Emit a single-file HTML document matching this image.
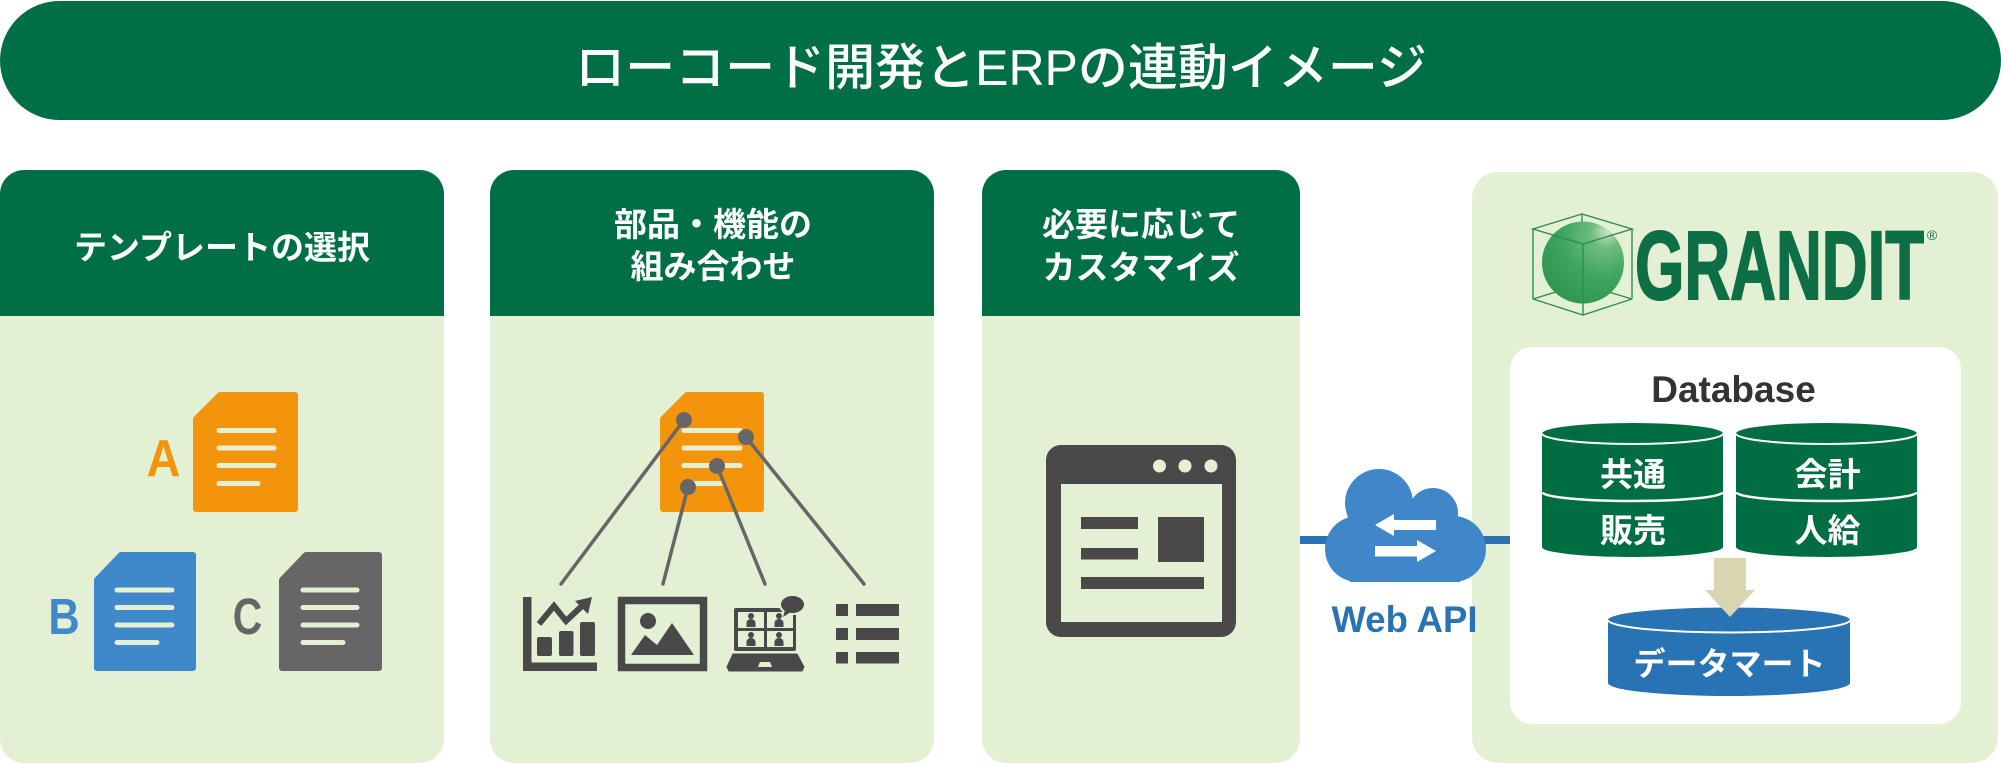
<!DOCTYPE html>
<html>
<head>
<meta charset="utf-8">
<style>
  html,body{margin:0;padding:0;background:#ffffff;}
  body{width:2001px;height:765px;overflow:hidden;}
  svg{display:block;}
  .jp{font-family:"Liberation Sans","Noto Sans CJK JP",sans-serif;}
</style>
</head>
<body>
<svg width="2001" height="765" viewBox="0 0 2001 765" xmlns="http://www.w3.org/2000/svg">
  <defs>
    <radialGradient id="sph" cx="0.7" cy="0.25" r="0.9" fx="0.8" fy="0.12">
      <stop offset="0" stop-color="#c9e5c3"/>
      <stop offset="0.2" stop-color="#6fbd7c"/>
      <stop offset="0.55" stop-color="#3ea55e"/>
      <stop offset="1" stop-color="#2f9150"/>
    </radialGradient>
  </defs>

  <!-- Title bar -->
  <rect x="0" y="1" width="2001" height="119" rx="59.5" ry="59.5" fill="#006f46"/>
  <text x="1001" y="85" text-anchor="middle" class="jp" font-size="50" font-weight="500" fill="#ffffff">ローコード開発とERPの連動イメージ</text>

  <!-- Panel 1 -->
  <rect x="0" y="170" width="444" height="593" rx="24" ry="24" fill="#e4f0d3"/>
  <path d="M0,316 V194 A24,24 0 0 1 24,170 H420 A24,24 0 0 1 444,194 V316 Z" fill="#006f46"/>
  <text x="222" y="259" text-anchor="middle" class="jp" font-size="33" font-weight="bold" fill="#ffffff">テンプレートの選択</text>

  <!-- Panel 2 -->
  <rect x="490" y="170" width="444" height="593" rx="24" ry="24" fill="#e4f0d3"/>
  <path d="M490,316 V194 A24,24 0 0 1 514,170 H910 A24,24 0 0 1 934,194 V316 Z" fill="#006f46"/>
  <text x="713" y="236" text-anchor="middle" class="jp" font-size="33" font-weight="bold" fill="#ffffff">部品・機能の</text>
  <text x="713" y="278" text-anchor="middle" class="jp" font-size="33" font-weight="bold" fill="#ffffff">組み合わせ</text>

  <!-- Panel 3 -->
  <rect x="982" y="170" width="318" height="593" rx="24" ry="24" fill="#e4f0d3"/>
  <path d="M982,316 V194 A24,24 0 0 1 1006,170 H1276 A24,24 0 0 1 1300,194 V316 Z" fill="#006f46"/>
  <text x="1141" y="236" text-anchor="middle" class="jp" font-size="33" font-weight="bold" fill="#ffffff">必要に応じて</text>
  <text x="1141" y="279" text-anchor="middle" class="jp" font-size="33" font-weight="bold" fill="#ffffff">カスタマイズ</text>

  <!-- Panel 4 -->
  <rect x="1472" y="172" width="526" height="591" rx="26" ry="26" fill="#e4f0d3"/>

  <!-- ===== Panel 1 documents ===== -->
  <polygon points="220,395 295,395 295,509 196,509 196,419" fill="#f3940d" stroke="#f3940d" stroke-width="6" stroke-linejoin="round"/>
  <g stroke="#e4f0d3" stroke-width="5" stroke-linecap="round">
    <line x1="219" y1="430.5" x2="274" y2="430.5"/>
    <line x1="219" y1="448" x2="274" y2="448"/>
    <line x1="219" y1="465.5" x2="274" y2="465.5"/>
    <line x1="219" y1="483.5" x2="258" y2="483.5"/>
  </g>
  <text x="163.5" y="476" text-anchor="middle" font-family="Liberation Sans, sans-serif" font-weight="bold" font-size="52" fill="#f3940d" transform="translate(163.5 0) scale(0.9 1) translate(-163.5 0)">A</text>

  <polygon points="121,555 193,555 193,668 97,668 97,580" fill="#3f88c9" stroke="#3f88c9" stroke-width="6" stroke-linejoin="round"/>
  <g stroke="#e4f0d3" stroke-width="5" stroke-linecap="round">
    <line x1="117" y1="590" x2="172" y2="590"/>
    <line x1="117" y1="607.5" x2="172" y2="607.5"/>
    <line x1="117" y1="625" x2="172" y2="625"/>
    <line x1="117" y1="642.5" x2="157" y2="642.5"/>
  </g>
  <text x="64" y="634" text-anchor="middle" font-family="Liberation Sans, sans-serif" font-weight="bold" font-size="51" fill="#3f88c9" transform="translate(64 0) scale(0.85 1) translate(-64 0)">B</text>

  <polygon points="306,555 379,555 379,668 282,668 282,580" fill="#666666" stroke="#666666" stroke-width="6" stroke-linejoin="round"/>
  <g stroke="#e4f0d3" stroke-width="5" stroke-linecap="round">
    <line x1="303" y1="590" x2="357" y2="590"/>
    <line x1="303" y1="607.5" x2="357" y2="607.5"/>
    <line x1="303" y1="625" x2="357" y2="625"/>
    <line x1="303" y1="642.5" x2="343" y2="642.5"/>
  </g>
  <text x="247.5" y="634" text-anchor="middle" font-family="Liberation Sans, sans-serif" font-weight="bold" font-size="51" fill="#666666" transform="translate(247.5 0) scale(0.8 1) translate(-247.5 0)">C</text>

  <!-- ===== Panel 2 ===== -->
  <polygon points="687,395 761,395 761,509 663,509 663,419" fill="#f3940d" stroke="#f3940d" stroke-width="6" stroke-linejoin="round"/>
  <g stroke="#e4f0d3" stroke-width="5" stroke-linecap="round">
    <line x1="684" y1="430.5" x2="740" y2="430.5"/>
    <line x1="684" y1="448" x2="740" y2="448"/>
    <line x1="684" y1="465.5" x2="740" y2="465.5"/>
    <line x1="684" y1="483.5" x2="722" y2="483.5"/>
  </g>
  <g stroke="#666666" stroke-width="3.5" stroke-linecap="round">
    <line x1="684" y1="420" x2="561" y2="584"/>
    <line x1="688" y1="487" x2="663" y2="584"/>
    <line x1="717" y1="466" x2="765" y2="584"/>
    <line x1="746" y1="437" x2="864" y2="584"/>
  </g>
  <g fill="#666666">
    <circle cx="684" cy="420" r="8"/>
    <circle cx="746" cy="437" r="8"/>
    <circle cx="717" cy="466" r="8"/>
    <circle cx="688" cy="487" r="8"/>
  </g>

  <!-- Chart icon -->
  <g fill="#494949">
    <rect x="523" y="597" width="8.5" height="74"/>
    <rect x="523" y="662.5" width="74" height="8.5"/>
    <rect x="537" y="637" width="15" height="19" rx="2"/>
    <rect x="559" y="631" width="14.5" height="25" rx="2"/>
    <rect x="580" y="622" width="15" height="34" rx="2"/>
    <polyline points="539,624 554,606 566,621 582,606" fill="none" stroke="#494949" stroke-width="6" stroke-linejoin="miter"/>
    <polygon points="592,597 575,601 588,614"/>
  </g>

  <!-- Picture icon -->
  <rect x="621.5" y="600.5" width="82" height="67" fill="none" stroke="#494949" stroke-width="7.5"/>
  <circle cx="648" cy="621" r="8" fill="#494949"/>
  <polygon points="631,655 645,635 657,645 672,623 694,655" fill="#494949"/>

  <!-- Laptop video call icon -->
  <g>
    <rect x="734" y="608" width="62" height="43" rx="2" fill="#494949"/>
    <g fill="#e4f0d3">
      <rect x="738" y="612" width="26" height="16"/>
      <rect x="767" y="612" width="26" height="16"/>
      <rect x="738" y="631" width="26" height="16"/>
      <rect x="767" y="631" width="26" height="16"/>
    </g>
    <g fill="#494949">
      <circle cx="751" cy="616" r="3"/>
      <path d="M746.5,627 v-4 a4.5,4 0 0 1 9,0 v4 z"/>
      <circle cx="779" cy="616" r="3"/>
      <path d="M774.5,627 v-4 a4.5,4 0 0 1 9,0 v4 z"/>
      <circle cx="751" cy="635" r="3"/>
      <path d="M746.5,646 v-4 a4.5,4 0 0 1 9,0 v4 z"/>
      <circle cx="779" cy="635" r="3"/>
      <path d="M774.5,646 v-4 a4.5,4 0 0 1 9,0 v4 z"/>
    </g>
    <ellipse cx="792.5" cy="605" rx="13.5" ry="10" fill="#e4f0d3"/>
    <ellipse cx="792.5" cy="604.5" rx="11.5" ry="8.5" fill="#494949"/>
    <polygon points="785,610 783,617 791,612" fill="#494949"/>
    <polygon points="733,654 797,654 804,667 802,671 729,671 727,667" fill="#494949" stroke="#494949" stroke-width="1" stroke-linejoin="round"/>
    <polygon points="760,662 770,662 772,667 758,667" fill="#e4f0d3"/>
  </g>

  <!-- List icon -->
  <g fill="#494949">
    <rect x="836" y="604" width="12" height="12"/>
    <rect x="856" y="604" width="43" height="12"/>
    <rect x="836" y="628" width="12" height="12"/>
    <rect x="856" y="628" width="43" height="12"/>
    <rect x="836" y="652" width="12" height="11.5"/>
    <rect x="856" y="652" width="43" height="11.5"/>
  </g>

  <!-- ===== Panel 3 browser icon ===== -->
  <rect x="1046" y="445" width="190" height="192" rx="15" ry="15" fill="#494949"/>
  <rect x="1061" y="484" width="161" height="138" fill="#e4f0d3"/>
  <g fill="#e4f0d3">
    <ellipse cx="1159.5" cy="466" rx="6.5" ry="6.5"/>
    <ellipse cx="1185" cy="466" rx="6.5" ry="6.5"/>
    <ellipse cx="1211" cy="466" rx="6.5" ry="6.5"/>
  </g>
  <g fill="#494949">
    <rect x="1081" y="517" width="57" height="12"/>
    <rect x="1081" y="548" width="57" height="11.5"/>
    <rect x="1158" y="517" width="46" height="45"/>
    <rect x="1081" y="577" width="123" height="12"/>
  </g>

  <!-- ===== Web API connector & cloud ===== -->
  <rect x="1300" y="536" width="210" height="8" fill="#2a72b2"/>
  <g fill="#3f87c8">
    <rect x="1350" y="530" width="110" height="52"/>
    <circle cx="1358" cy="549" r="33"/>
    <circle cx="1453" cy="549" r="33"/>
    <circle cx="1379" cy="503" r="34"/>
    <circle cx="1433" cy="513" r="25"/>
    <rect x="1380" y="500" width="60" height="40"/>
  </g>
  <g fill="#ffffff">
    <rect x="1392" y="520" width="44" height="10"/>
    <polygon points="1375,525 1394,514 1394,536"/>
    <rect x="1375" y="546" width="43" height="10.5"/>
    <polygon points="1436,551 1417,540 1417,562"/>
  </g>
  <text x="1404.5" y="632" text-anchor="middle" font-family="Liberation Sans, sans-serif" font-weight="bold" font-size="37" fill="#2a72b2" textLength="146" lengthAdjust="spacingAndGlyphs">Web API</text>

  <!-- ===== GRANDIT logo ===== -->
  <g fill="none" stroke="#2e8d55" stroke-width="1.4">
    <polyline points="1533,299 1582,284 1632,299"/>
    <line x1="1582" y1="214" x2="1582" y2="284"/>
  </g>
  <circle cx="1583" cy="262.5" r="41" fill="url(#sph)"/>
  <g fill="none" stroke="#2e8d55" stroke-width="1.4">
    <polygon points="1533,229 1582,214 1632,229 1583,244"/>
    <line x1="1533" y1="229" x2="1533" y2="299"/>
    <line x1="1583" y1="244" x2="1583" y2="315"/>
    <line x1="1632" y1="229" x2="1632" y2="299"/>
    <polyline points="1533,299 1583,315 1632,299"/>
  </g>
  <text x="1635" y="299" font-family="Liberation Sans, sans-serif" font-weight="bold" font-size="97" fill="#0e6e45" stroke="#0e6e45" stroke-width="2" textLength="289" lengthAdjust="spacingAndGlyphs">GRANDIT</text>
  <text x="1932" y="240" text-anchor="middle" font-family="Liberation Sans, sans-serif" font-size="14" fill="#0e6e45">®</text>

  <!-- White database box -->
  <rect x="1510" y="347" width="451" height="377" rx="22" ry="22" fill="#ffffff"/>
  <text x="1733.5" y="402" text-anchor="middle" font-family="Liberation Sans, sans-serif" font-weight="bold" font-size="37" fill="#333333">Database</text>

  <!-- Left cylinder -->
  <path d="M1542,433.5 V547 A90.5,10 0 0 0 1723,547 V433.5 A90.5,10.5 0 0 0 1542,433.5 Z" fill="#006e42"/>
  <path d="M1542,433.5 A90.5,10.5 0 0 0 1723,433.5" fill="none" stroke="#ffffff" stroke-width="2"/>
  <path d="M1542,492 A90.5,9 0 0 0 1723,492" fill="none" stroke="#ffffff" stroke-width="2.5"/>
  <text x="1633" y="486" text-anchor="middle" class="jp" font-size="33" font-weight="bold" fill="#ffffff">共通</text>
  <text x="1633" y="542" text-anchor="middle" class="jp" font-size="33" font-weight="bold" fill="#ffffff">販売</text>

  <!-- Right cylinder -->
  <path d="M1736,433.5 V547 A90.5,10 0 0 0 1917,547 V433.5 A90.5,10.5 0 0 0 1736,433.5 Z" fill="#006e42"/>
  <path d="M1736,433.5 A90.5,10.5 0 0 0 1917,433.5" fill="none" stroke="#ffffff" stroke-width="2"/>
  <path d="M1736,492 A90.5,9 0 0 0 1917,492" fill="none" stroke="#ffffff" stroke-width="2.5"/>
  <text x="1827.5" y="486" text-anchor="middle" class="jp" font-size="33" font-weight="bold" fill="#ffffff">会計</text>
  <text x="1827.5" y="542" text-anchor="middle" class="jp" font-size="33" font-weight="bold" fill="#ffffff">人給</text>

  <!-- Data mart cylinder -->
  <path d="M1608,620 V683 A121,13 0 0 0 1850,683 V620 A121,12.5 0 0 0 1608,620 Z" fill="#2873b3"/>
  <path d="M1608,620 A121,12.5 0 0 0 1850,620" fill="none" stroke="#ffffff" stroke-width="2"/>
  <text x="1729.5" y="675" text-anchor="middle" class="jp" font-size="32" font-weight="bold" fill="#ffffff">データマート</text>

  <!-- Down arrow -->
  <g fill="#d9d5b0">
    <rect x="1714" y="558" width="32" height="33"/>
    <polygon points="1705,590 1755,590 1730,617"/>
  </g>
</svg>
</body>
</html>
